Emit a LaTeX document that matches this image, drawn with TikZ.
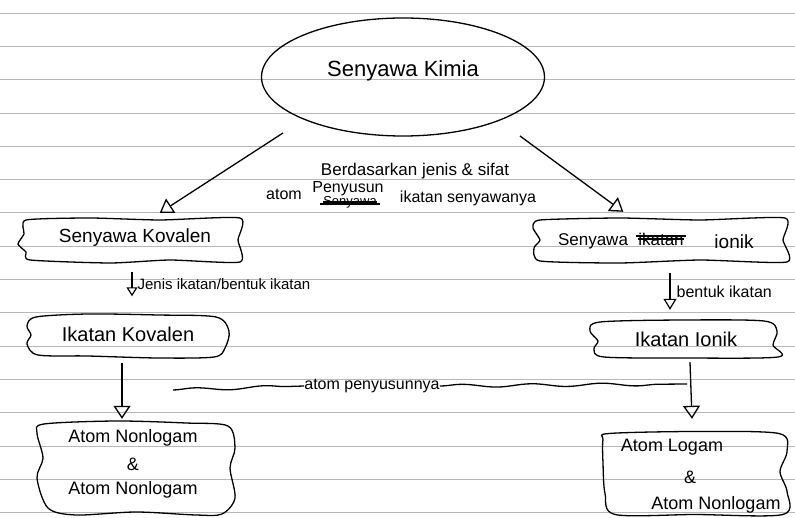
\documentclass[tikz,border=0pt]{standalone}
\usepackage{fontspec}
\setmainfont{Liberation Sans}
\usetikzlibrary{arrows.meta,decorations.pathmorphing,shapes.geometric,calc}
\begin{document}
\begin{tikzpicture}[x=1pt,y=-1pt,
  rule/.style={draw=black!28, line width=0.7pt},
  ink/.style={line width=1.3pt, draw=black},
  frame/.style={rectangle, draw=none, inner sep=0pt},
  outline/.style={ink, line join=round},
  bigarr/.style={ink, -{Triangle[open, length=13pt, width=17pt, line width=1.3pt]}},
  smallarr/.style={ink, -{Triangle[open, length=9pt, width=11pt, line width=1.2pt]}},
  lbl/.style={font=\fontsize{20}{24}\selectfont, inner sep=0pt},
  midtxt/.style={font=\fontsize{16}{19}\selectfont, inner sep=0pt},
  smalltxt/.style={font=\fontsize{15}{18}\selectfont, inner sep=0pt},
  strike/.style={line width=2.2pt, draw=black},
  wavy/.style={ink, decorate, decoration={snake, amplitude=1.5pt, segment length=70pt}}
]
\useasboundingbox (0,0) rectangle (795,518);
\fill[white] (0,0) rectangle (795,518);
% ruled paper
\foreach \i in {0,...,15}
  \draw[rule] (0,{13+33.3*\i}) -- (795,{13+33.3*\i});

% top ellipse
\node[ellipse, ink, minimum width=283pt, minimum height=118pt] (kimia) at (403,77) {};
\node[lbl, font=\fontsize{22}{26}\selectfont] (kimiatxt) at (403,71) {Senyawa Kimia};

% middle explanation
\node[midtxt, font=\fontsize{17}{20}\selectfont] (ket1) at (415,171) {Berdasarkan jenis \& sifat};
\node[midtxt] (ketatom) at (284,194) {atom};
\node[midtxt] (ketpeny) at (348,189) {Penyusun};
\node[midtxt, font=\fontsize{13}{15}\selectfont] (ketsen) at (350,202) {Senyawa};
\draw[strike] (ketsen.west) -- (ketsen.east);
\draw[line width=1.2pt] ($(ketsen.west)+(-3,2)$) -- ($(ketsen.east)+(3,2)$);
\node[midtxt] (ketik) at (468,198) {ikatan senyawanya};

% ---------- left column ----------
\node[frame, minimum width=220pt, minimum height=44pt] (kov) at (130,240) {};
\begin{scope}[shift={(kov.center)}]
\draw[outline] plot[smooth cycle, tension=0.35] coordinates {
  (-104,-20) (-40,-22) (30,-20) (110,-22) (108,0) (110,22) (40,20)
  (-20,23) (-100,20) (-104,12) (-112,4) (-106,-6)};
\end{scope}
\node[lbl, font=\fontsize{19}{22}\selectfont] (kovtxt) at (135,238) {Senyawa Kovalen};

\node[frame, minimum width=203pt, minimum height=45pt] (ikov) at (128,336) {};
\begin{scope}[shift={(ikov.center)}]
\draw[outline] plot[smooth cycle, tension=0.5] coordinates {
  (-92,-19) (-40,-22) (30,-21) (88,-19) (101,-5) (97,12) (86,21)
  (30,22) (-40,20) (-90,19) (-101,8) (-97,-1) (-101,-10)};
\end{scope}
\node[lbl] (ikovtxt) at (128,334) {Ikatan Kovalen};

\node[frame, minimum width=198pt, minimum height=94pt] (nonl) at (136,468) {};
\begin{scope}[shift={(nonl.center)}]
\draw[outline] plot[smooth cycle, tension=0.5] coordinates {
  (-92,-44) (-20,-47) (50,-45) (92,-42) (99,-20) (94,0) (99,30) (86,46)
  (60,47) (0,44) (-60,47) (-88,40) (-99,10) (-93,-10) (-99,-35)};
\end{scope}
\node[lbl, font=\fontsize{18}{21}\selectfont] (nonl1) at (133,438) {Atom Nonlogam};
\node[lbl, font=\fontsize{18}{21}\selectfont] (nonl2) at (133,464) {\&};
\node[lbl, font=\fontsize{18}{21}\selectfont] (nonl3) at (133,490) {Atom Nonlogam};

% ---------- right column ----------
\node[frame, minimum width=255pt, minimum height=46pt] (ion) at (660,240) {};
\begin{scope}[shift={(ion.center)}]
\draw[outline] plot[smooth cycle, tension=0.35] coordinates {
  (-120,-20) (-40,-22) (40,-20) (125,-22) (123,0) (127,22) (40,20)
  (-40,23) (-120,21) (-126,8) (-120,0) (-127,-12)};
\end{scope}
\node[lbl, font=\fontsize{17}{20}\selectfont] (ion1) at (593,241) {Senyawa};
\node[lbl, font=\fontsize{17}{20}\selectfont] (ion2) at (661,239) {ikatan};
\draw[strike] (ion2.west) -- (ion2.east);
\draw[line width=1.2pt] ($(ion2.west)+(-2,-3)$) -- ($(ion2.east)+(2,-3)$);
\node[lbl, font=\fontsize{19}{22}\selectfont] (ion3) at (734,242) {ionik};

\node[frame, minimum width=188pt, minimum height=38pt] (iion) at (684,339) {};
\begin{scope}[shift={(iion.center)}]
\draw[outline] plot[smooth cycle, tension=0.5] coordinates {
  (-84,-17) (0,-19) (80,-18) (93,-8) (89,6) (94,18) (0,19)
  (-80,18) (-90,10) (-86,2) (-94,-8)};
\end{scope}
\node[lbl] (iiontxt) at (686,339) {Ikatan Ionik};

\node[frame, minimum width=184pt, minimum height=83pt] (logam) at (695,473.5) {};
\begin{scope}[shift={(logam.center)}]
\draw[outline] plot[smooth cycle, tension=0.5] coordinates {
  (-86,-40) (0,-42) (84,-40) (92,-22) (85,-2) (92,18) (88,41)
  (0,41) (-80,41) (-90,20) (-92,-10) (-92,-34)};
\end{scope}
\node[lbl, font=\fontsize{18}{21}\selectfont] (log1) at (672,447) {Atom Logam};
\node[lbl, font=\fontsize{18}{21}\selectfont] (log2) at (690,477) {\&};
\node[lbl, font=\fontsize{18}{21}\selectfont] (log3) at (716,505) {Atom Nonlogam};

% ---------- arrows ----------
\draw[bigarr] ($(kimia.center)+(-120,56)$) -- ($(kov.north west)+(140,-5)$);
\draw[bigarr] ($(kimia.center)+(117,59)$) -- ($(ion.north west)+(91,-5)$);
\draw[smallarr] ($(kov.south)+(2,10)$) -- ($(ikov.north)+(4,-17)$)
  node[smalltxt, midway, right=5pt, anchor=west] (lbl1) {Jenis ikatan/bentuk ikatan};
\draw[bigarr] ($(ikov.south)+(-6,4)$) -- ($(nonl.north)+(-14,-2)$);
\draw[ink, -{Triangle[open, length=11pt, width=13pt, line width=1.2pt]}] ($(ion.south)+(10,10)$) -- ($(iion.north)+(-14,-10)$)
  node[smalltxt, font=\fontsize{16}{19}\selectfont, midway, right=6pt, anchor=west] (lbl2) {bentuk ikatan};
\draw[bigarr] ($(iion.south)+(6,4)$) -- ($(logam.north)+(-3,-13)$);

% shared label line
\node[smalltxt, font=\fontsize{16}{19}\selectfont] (atompeny) at (372,386) {atom penyusunnya};
\coordinate (wl) at (173,390);
\coordinate (wr) at (687,384);
\draw[wavy] (wl) -- (atompeny.west);
\draw[wavy] (atompeny.east) -- (wr);
\end{tikzpicture}
\end{document}
